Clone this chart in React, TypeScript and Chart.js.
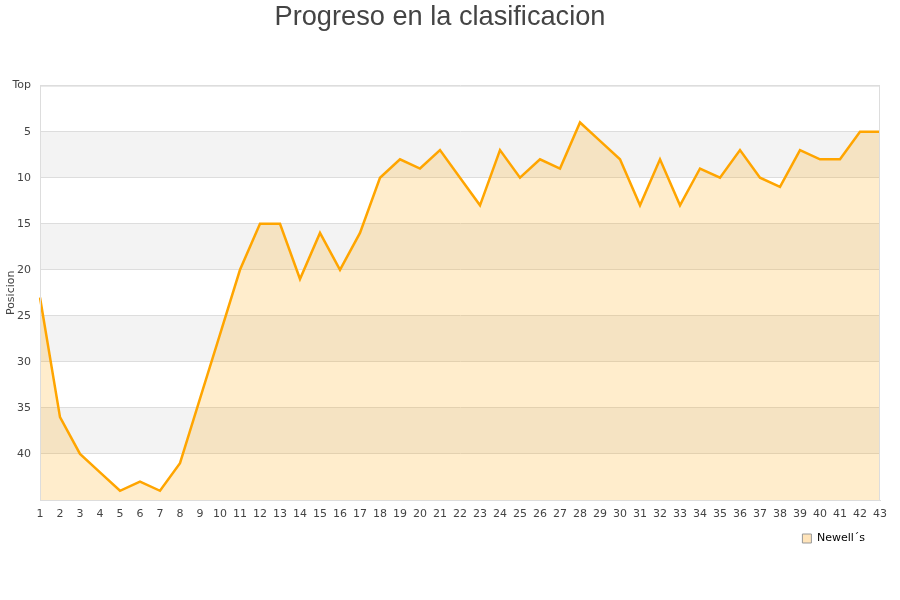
import React, { useEffect, useRef } from "react";
import { Chart, registerables } from "chart.js";

Chart.register(...registerables);

const jornadas: string[] = Array.from({ length: 43 }, (_, i) => String(i + 1));
const posiciones: number[] = [
  23, 36, 40, 42, 44, 43, 44, 41, 34, 27,
  20, 15, 15, 21, 16, 20, 16, 10, 8, 9,
  7, 10, 13, 7, 10, 8, 9, 4, 6, 8,
  13, 8, 13, 9, 10, 7, 10, 11, 7, 8,
  8, 5, 5,
];
const yTickStep = 5;
const yMin = 0;
const yMax = 45;
const topLabel = "Top";
const teamName = "Newell´s";
const titleText = "Progreso en la clasificacion";
const yTitle = "Posicion";

const bandsPlugin = {
  id: "bands",
  afterLayout(chart: any) {
    if (chart.legend) {
      chart.legend.right -= 8;
    }
  },
  beforeDraw(chart: any) {
    const { ctx, chartArea, scales } = chart;
    const y = scales.y;
    ctx.save();
    ctx.fillStyle = "#f3f3f3";
    for (let v = yMin + yTickStep; v < yMax; v += yTickStep * 2) {
      const p1 = y.getPixelForValue(v);
      const p2 = y.getPixelForValue(Math.min(v + yTickStep, yMax));
      ctx.fillRect(chartArea.left, Math.min(p1, p2), chartArea.right - chartArea.left, Math.abs(p2 - p1));
    }
    ctx.restore();
  },
  afterDraw(chart: any) {
    const { ctx, chartArea } = chart;
    ctx.save();
    ctx.strokeStyle = "#dddddd";
    ctx.lineWidth = 1;
    ctx.strokeRect(chartArea.left + 0.5, chartArea.top + 0.5, chartArea.right - chartArea.left - 1, chartArea.bottom - chartArea.top);
    ctx.restore();
  },
};

export default function App() {
  const ref = useRef<HTMLCanvasElement | null>(null);
  useEffect(() => {
    document.body.style.margin = "0";
    if (!ref.current) return;
    const chart = new Chart(ref.current, {
      type: "line",
      data: {
        labels: jornadas,
        datasets: [
          {
            label: teamName,
            data: posiciones,
            borderColor: "#FFA500",
            borderWidth: 2.5,
            backgroundColor: "rgba(255,165,0,0.2)",
            fill: { value: yMax },
            pointRadius: 0,
            tension: 0,
          },
        ],
      },
      options: {
        animation: false,
        responsive: false,
        maintainAspectRatio: false,
        layout: { padding: { left: 0, right: 20, top: 0, bottom: 46 } },
        plugins: {
          title: {
            display: true,
            text: titleText,
            color: "#444444",
            font: { family: "Liberation Sans", size: 27.2, weight: "normal" },
            padding: { top: 1, bottom: 52 },
          },
          legend: {
            position: "bottom",
            align: "end",
            labels: {
              boxWidth: 9,
              boxHeight: 9,
              padding: 7,
              color: "#000000",
              font: { family: "DejaVu Sans", size: 11 },
              generateLabels: () => [
                {
                  text: teamName,
                  fillStyle: "rgba(255,210,140,0.6)",
                  strokeStyle: "#999999",
                  lineWidth: 1,
                  hidden: false,
                  datasetIndex: 0,
                },
              ],
            },
          },
          tooltip: { enabled: false },
        },
        scales: {
          x: {
            type: "category",
            offset: false,
            grid: { display: false, drawTicks: false },
            border: { color: "#dddddd" },
            ticks: {
              autoSkip: false,
              maxRotation: 0,
              padding: 8,
              color: "#444444",
              font: { family: "DejaVu Sans", size: 11 },
            },
            afterFit: (s: any) => {
              s.height = 26;
            },
          },
          y: {
            reverse: true,
            min: yMin,
            max: yMax,
            grid: { color: "#dddddd", drawTicks: false },
            border: { color: "#dddddd" },
            ticks: {
              stepSize: yTickStep,
              padding: 9,
              color: "#444444",
              font: { family: "DejaVu Sans", size: 11 },
              callback: (v: any) => (v === yMin ? topLabel : v === yMax ? "" : String(v)),
            },
            title: {
              display: true,
              text: yTitle,
              color: "#444444",
              font: { family: "DejaVu Sans", size: 11 },
              padding: { top: 5, bottom: 0 },
            },
            afterFit: (s: any) => {
              s.width = 40;
            },
          },
        },
      },
      plugins: [bandsPlugin],
    });
    return () => chart.destroy();
  }, []);
  return (
    <div style={{ width: 900, height: 600 }}>
      <canvas ref={ref} width={900} height={600} style={{ width: 900, height: 600 }} />
    </div>
  );
}
